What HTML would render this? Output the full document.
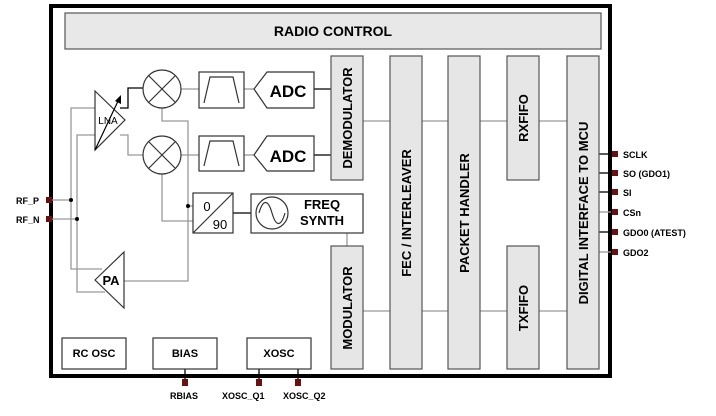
<!DOCTYPE html>
<html><head><style>body{margin:0;background:#fff}svg{display:block}</style></head><body>
<svg width="716" height="416" viewBox="0 0 716 416" xmlns="http://www.w3.org/2000/svg" font-family="Liberation Sans, Arial, sans-serif" font-weight="bold">
<!-- outer -->
<rect x="51" y="6" width="559" height="370" fill="none" stroke="#000" stroke-width="4"/>
<rect x="65" y="13" width="536" height="36" fill="#e8e8e8" stroke="#555" stroke-width="1.2"/>
<text x="333" y="36" font-size="14" text-anchor="middle">RADIO CONTROL</text>

<g stroke="#999" stroke-width="1.3" fill="none">
<!-- horizontal connectors -->
<line x1="363" y1="121" x2="567" y2="121"/>
<line x1="363" y1="311" x2="567" y2="311"/>
<line x1="347" y1="233" x2="347" y2="246"/>
<!-- RF lines -->
<polyline points="71,200 71,108 95,108"/>
<polyline points="71,200 71,269 102,269"/>
<polyline points="77,219 77,135 95,135"/>
<polyline points="77,219 77,292 105,292"/>
<line x1="52" y1="200" x2="71" y2="200"/>
<line x1="52" y1="219" x2="77" y2="219"/>
<polyline points="120,135 128,135 128,155 143,155"/>
<polyline points="162,108 162,121 188,121 188,281 124,281"/>
<polyline points="162,174 162,221 193,221"/>
<line x1="188" y1="206" x2="193" y2="206"/>
<line x1="599" y1="212" x2="611" y2="212"/>
<line x1="599" y1="252" x2="611" y2="252"/>
<line x1="244" y1="89" x2="254" y2="89"/>
<line x1="244" y1="155" x2="254" y2="155"/>
<line x1="181" y1="89" x2="199" y2="89"/>
<line x1="181" y1="155" x2="199" y2="155"/>
</g>
<g stroke="#000" stroke-width="1.3" fill="none">
<polyline points="120,108 128,108 128,88 143,88"/>
<line x1="314" y1="89" x2="331" y2="89"/>
<line x1="314" y1="155" x2="331" y2="155"/>
<line x1="233" y1="213" x2="251" y2="213"/>
<line x1="599" y1="154" x2="611" y2="154"/>
<line x1="599" y1="173" x2="611" y2="173"/>
<line x1="599" y1="192" x2="611" y2="192"/>
<line x1="599" y1="232" x2="611" y2="232"/>
<line x1="185" y1="369" x2="185" y2="380"/>
<line x1="259" y1="369" x2="259" y2="380"/>
<line x1="298" y1="369" x2="298" y2="380"/>
</g>
<circle cx="71" cy="200" r="2" fill="#000"/>
<circle cx="77" cy="219" r="2" fill="#000"/>
<circle cx="188" cy="206" r="2" fill="#000"/>

<!-- columns -->
<g fill="#e6e6e6" stroke="#555" stroke-width="1.2">
<rect x="331" y="56" width="32" height="124"/>
<rect x="331" y="246" width="32" height="123"/>
<rect x="390" y="56" width="32" height="313"/>
<rect x="448" y="56" width="32" height="313"/>
<rect x="507" y="56" width="32" height="124"/>
<rect x="507" y="246" width="32" height="123"/>
<rect x="567" y="56" width="32" height="313"/>
</g>
<g font-size="13" text-anchor="middle">
<text transform="translate(352,118) rotate(-90)">DEMODULATOR</text>
<text transform="translate(352,308) rotate(-90)">MODULATOR</text>
<text transform="translate(411,213) rotate(-90)">FEC / INTERLEAVER</text>
<text transform="translate(469,213) rotate(-90)">PACKET HANDLER</text>
<text transform="translate(528,118) rotate(-90)">RXFIFO</text>
<text transform="translate(528,308) rotate(-90)">TXFIFO</text>
<text transform="translate(588,213) rotate(-90)">DIGITAL INTERFACE TO MCU</text>
</g>

<!-- LNA -->
<polygon points="95,91 125,120 95,150" fill="#fff" stroke="#333" stroke-width="1.2"/>
<text x="108" y="124" font-size="10" font-weight="normal" text-anchor="middle">LNA</text>
<line x1="95" y1="150" x2="119" y2="99" stroke="#000" stroke-width="1.2"/>
<polygon points="121,95 121,104 115,101" fill="#000"/>
<!-- PA -->
<polygon points="95,280 124,252 124,308" fill="#fff" stroke="#333" stroke-width="1.2"/>
<text x="111" y="285" font-size="13" text-anchor="middle">PA</text>

<!-- mixers -->
<g stroke="#333" stroke-width="1.2" fill="#fff">
<circle cx="162" cy="89" r="19"/>
<circle cx="162" cy="155" r="19"/>
</g>
<g stroke="#333" stroke-width="1.2">
<line x1="149" y1="76" x2="175" y2="102"/><line x1="175" y1="76" x2="149" y2="102"/>
<line x1="149" y1="142" x2="175" y2="168"/><line x1="175" y1="142" x2="149" y2="168"/>
</g>
<!-- filters -->
<g stroke="#333" stroke-width="1.2" fill="#fff">
<rect x="199" y="72" width="45" height="36"/>
<rect x="199" y="136" width="45" height="35"/>
</g>
<g stroke="#333" stroke-width="1.2" fill="none">
<polyline points="204,103 210,77 233,77 239,103"/>
<polyline points="204,166 210,141 233,141 239,166"/>
</g>
<!-- ADC -->
<g stroke="#333" stroke-width="1.2" fill="#fff">
<polygon points="254,89 267,72 314,72 314,108 267,108"/>
<polygon points="254,155 267,136 314,136 314,171 267,171"/>
</g>
<text x="288" y="97" font-size="17" text-anchor="middle">ADC</text>
<text x="288" y="162" font-size="17" text-anchor="middle">ADC</text>
<!-- 0/90 -->
<rect x="193" y="193" width="40" height="40" fill="#fff" stroke="#333" stroke-width="1.2"/>
<line x1="193" y1="233" x2="233" y2="193" stroke="#333" stroke-width="1.2"/>
<text x="207" y="211" font-size="13" font-weight="normal" text-anchor="middle">0</text>
<text x="220" y="229" font-size="13" font-weight="normal" text-anchor="middle">90</text>
<!-- synth -->
<rect x="251" y="194" width="112" height="39" fill="#fff" stroke="#333" stroke-width="1.2"/>
<circle cx="272" cy="213" r="16" fill="none" stroke="#333" stroke-width="1.2"/>
<path d="M259,213 C263,199 268,199 272,213 S281,227 285,213" fill="none" stroke="#333" stroke-width="1.2"/>
<text x="322" y="209" font-size="13" text-anchor="middle">FREQ</text>
<text x="322" y="225" font-size="13" text-anchor="middle">SYNTH</text>

<!-- bottom boxes -->
<g stroke="#333" stroke-width="1.2" fill="#fff">
<rect x="62" y="338" width="64" height="31"/>
<rect x="153" y="338" width="64" height="31"/>
<rect x="247" y="338" width="64" height="31"/>
</g>
<g font-size="11" text-anchor="middle">
<text x="94" y="357">RC OSC</text>
<text x="185" y="357">BIAS</text>
<text x="279" y="357">XOSC</text>
</g>
<!-- pins -->
<g fill="#6b1010">
<rect x="182" y="379" width="6" height="7"/>
<rect x="256" y="379" width="6" height="7"/>
<rect x="295" y="379" width="6" height="7"/>
<rect x="46" y="197" width="6" height="6"/>
<rect x="46" y="216" width="6" height="6"/>
<rect x="612" y="151" width="6" height="6"/>
<rect x="612" y="170" width="6" height="6"/>
<rect x="612" y="189" width="6" height="6"/>
<rect x="612" y="209" width="6" height="6"/>
<rect x="612" y="229" width="6" height="6"/>
<rect x="612" y="249" width="6" height="6"/>
</g>
<g font-size="9">
<text x="170" y="399">RBIAS</text>
<text x="222" y="399">XOSC_Q1</text>
<text x="283" y="399">XOSC_Q2</text>
<text x="16" y="204">RF_P</text>
<text x="16" y="223">RF_N</text>
<text x="623" y="158">SCLK</text>
<text x="623" y="177">SO (GDO1)</text>
<text x="623" y="196">SI</text>
<text x="623" y="216">CSn</text>
<text x="623" y="236">GDO0 (ATEST)</text>
<text x="623" y="256">GDO2</text>
</g>
</svg>
</body></html>
